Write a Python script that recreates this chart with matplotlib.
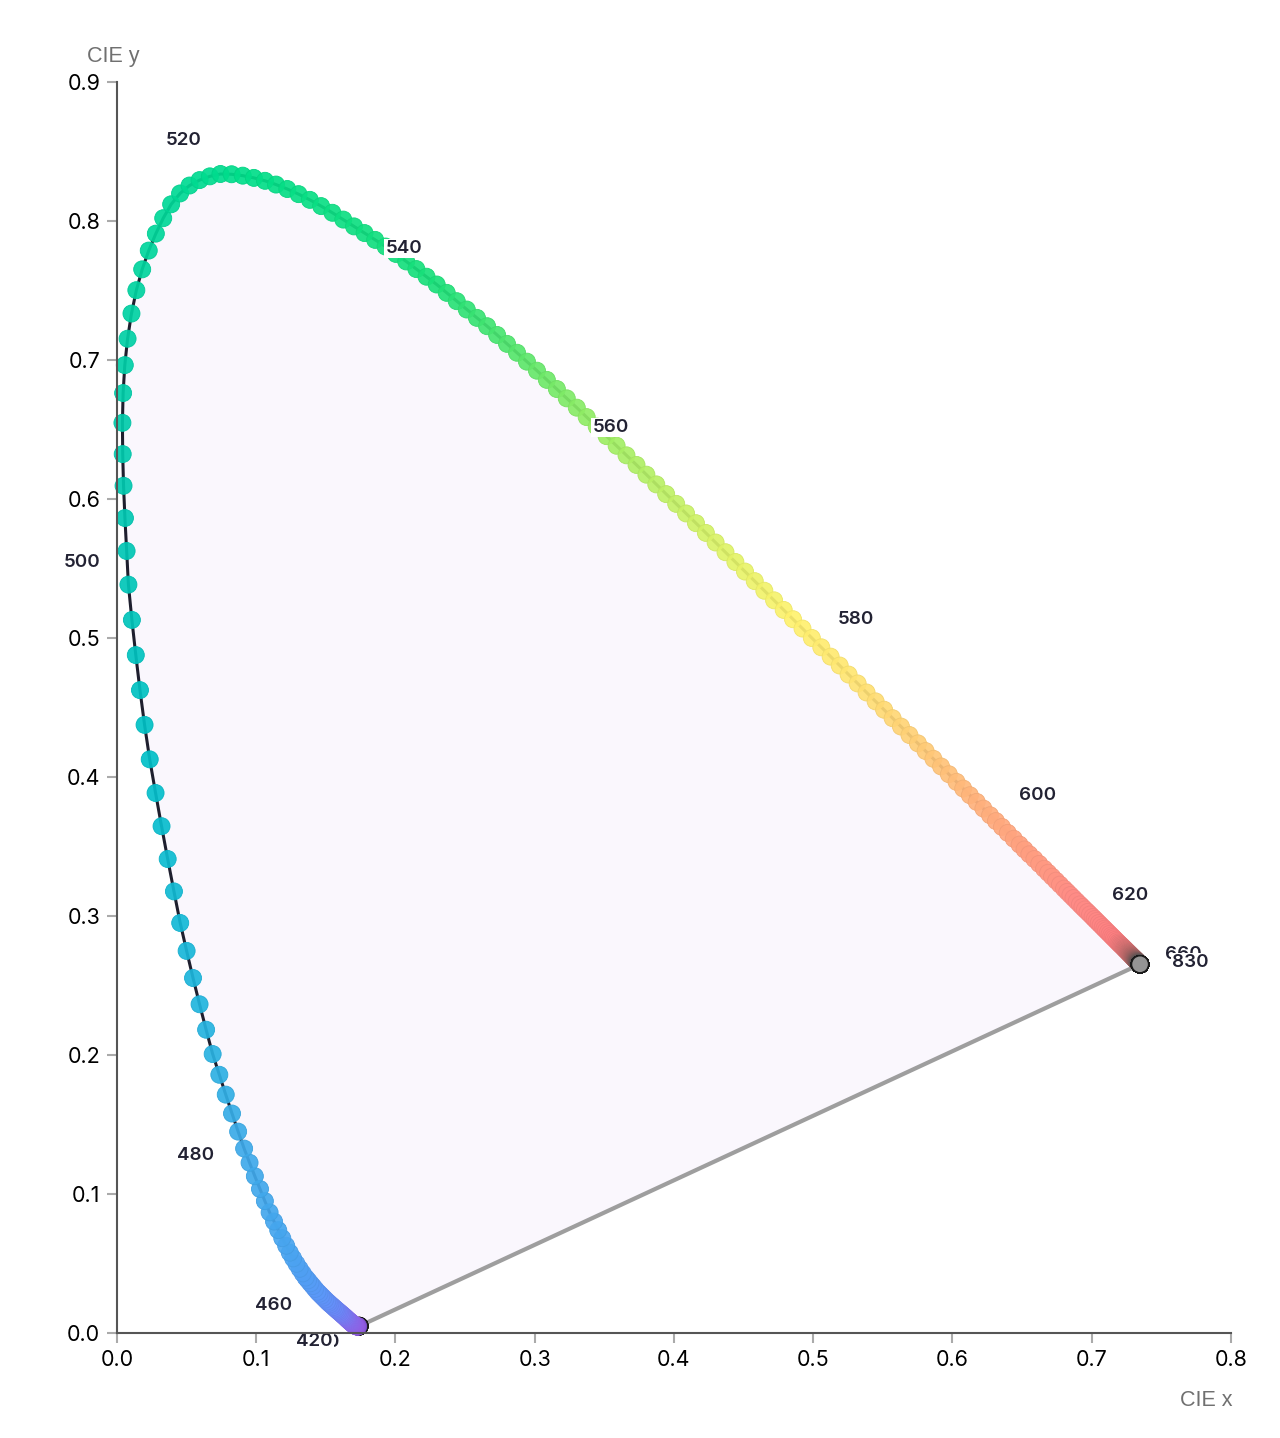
import numpy as np
import matplotlib
matplotlib.use("Agg")
import matplotlib.pyplot as plt
from matplotlib.colors import to_rgb

### Données : lieu spectral CIE 1931 (2°), pas de 1 nm
wl = np.arange(380, 831)

cie_x = [
    0.1741, 0.1741, 0.1741, 0.1740, 0.1740, 0.1740, 0.1739, 0.1739, 0.1739, 0.1738,  # 380
    0.1738, 0.1738, 0.1737, 0.1737, 0.1736, 0.1736, 0.1735, 0.1735, 0.1734, 0.1734,  # 390
    0.1733, 0.1732, 0.1732, 0.1731, 0.1731, 0.1730, 0.1729, 0.1728, 0.1728, 0.1727,  # 400
    0.1726, 0.1725, 0.1724, 0.1723, 0.1722, 0.1721, 0.1720, 0.1718, 0.1717, 0.1715,  # 410
    0.1714, 0.1712, 0.1710, 0.1708, 0.1706, 0.1703, 0.1700, 0.1697, 0.1695, 0.1692,  # 420
    0.1689, 0.1685, 0.1681, 0.1677, 0.1673, 0.1669, 0.1664, 0.1659, 0.1654, 0.1649,  # 430
    0.1644, 0.1638, 0.1631, 0.1625, 0.1618, 0.1611, 0.1602, 0.1593, 0.1584, 0.1575,  # 440
    0.1566, 0.1555, 0.1544, 0.1532, 0.1521, 0.1510, 0.1496, 0.1482, 0.1468, 0.1454,  # 450
    0.1440, 0.1423, 0.1406, 0.1389, 0.1372, 0.1355, 0.1334, 0.1312, 0.1289, 0.1265,  # 460
    0.1241, 0.1215, 0.1187, 0.1158, 0.1128, 0.1096, 0.1062, 0.1027, 0.0990, 0.0952,  # 470
    0.0913, 0.0870, 0.0826, 0.0781, 0.0735, 0.0687, 0.0640, 0.0593, 0.0546, 0.0500,  # 480
    0.0454, 0.0409, 0.0364, 0.0320, 0.0277, 0.0235, 0.0198, 0.0165, 0.0135, 0.0107,  # 490
    0.0082, 0.0069, 0.0057, 0.0047, 0.0041, 0.0039, 0.0044, 0.0056, 0.0076, 0.0104,  # 500
    0.0139, 0.0181, 0.0228, 0.0279, 0.0332, 0.0389, 0.0453, 0.0521, 0.0593, 0.0667,  # 510
    0.0743, 0.0823, 0.0903, 0.0983, 0.1063, 0.1142, 0.1223, 0.1304, 0.1385, 0.1466,  # 520
    0.1547, 0.1625, 0.1702, 0.1778, 0.1854, 0.1929, 0.2003, 0.2077, 0.2150, 0.2223,  # 530
    0.2296, 0.2368, 0.2440, 0.2512, 0.2585, 0.2658, 0.2730, 0.2801, 0.2873, 0.2944,  # 540
    0.3016, 0.3087, 0.3159, 0.3230, 0.3302, 0.3373, 0.3445, 0.3516, 0.3588, 0.3659,  # 550
    0.3731, 0.3802, 0.3873, 0.3944, 0.4016, 0.4087, 0.4158, 0.4229, 0.4299, 0.4370,  # 560
    0.4441, 0.4510, 0.4580, 0.4649, 0.4719, 0.4788, 0.4855, 0.4923, 0.4990, 0.5058,  # 570
    0.5125, 0.5190, 0.5254, 0.5319, 0.5383, 0.5448, 0.5509, 0.5570, 0.5630, 0.5691,  # 580
    0.5752, 0.5807, 0.5863, 0.5918, 0.5974, 0.6029, 0.6077, 0.6125, 0.6174, 0.6222,  # 590
    0.6270, 0.6312, 0.6355, 0.6397, 0.6440, 0.6482, 0.6517, 0.6552, 0.6588, 0.6623,  # 600
    0.6658, 0.6687, 0.6715, 0.6744, 0.6772, 0.6801, 0.6824, 0.6847, 0.6869, 0.6892,  # 610
    0.6915, 0.6933, 0.6951, 0.6970, 0.6988, 0.7006, 0.7021, 0.7035, 0.7050, 0.7064,  # 620
    0.7079, 0.7091, 0.7103, 0.7116, 0.7128, 0.7140, 0.7150, 0.7160, 0.7170, 0.7180,  # 630
    0.7190, 0.7198, 0.7206, 0.7214, 0.7222, 0.7230, 0.7236, 0.7242, 0.7248, 0.7254,  # 640
    0.7260, 0.7265, 0.7269, 0.7274, 0.7278, 0.7283, 0.7286, 0.7290, 0.7293, 0.7297,  # 650
    0.7300, 0.7302, 0.7304, 0.7307, 0.7309, 0.7311, 0.7313, 0.7315, 0.7316, 0.7318,  # 660
    0.7320, 0.7321, 0.7323, 0.7324, 0.7326, 0.7327, 0.7328, 0.7330, 0.7331, 0.7333,  # 670
    0.7334, 0.7335, 0.7336, 0.7338, 0.7339, 0.7340, 0.7341, 0.7342, 0.7342, 0.7343,  # 680
    0.7344, 0.7344, 0.7345, 0.7345, 0.7346, 0.7346, 0.7346, 0.7346, 0.7347, 0.7347,  # 690
] + [0.7347] * 131  # 700 -> 830 : constant

cie_y = [
    0.0050, 0.0050, 0.0050, 0.0050, 0.0050, 0.0050, 0.0050, 0.0049, 0.0049, 0.0049,  # 380
    0.0049, 0.0049, 0.0049, 0.0049, 0.0049, 0.0049, 0.0049, 0.0048, 0.0048, 0.0048,  # 390
    0.0048, 0.0048, 0.0048, 0.0048, 0.0048, 0.0048, 0.0048, 0.0048, 0.0048, 0.0048,  # 400
    0.0048, 0.0048, 0.0048, 0.0048, 0.0048, 0.0048, 0.0049, 0.0049, 0.0050, 0.0050,  # 410
    0.0051, 0.0052, 0.0054, 0.0055, 0.0056, 0.0058, 0.0060, 0.0062, 0.0064, 0.0067,  # 420
    0.0069, 0.0072, 0.0076, 0.0079, 0.0082, 0.0086, 0.0090, 0.0095, 0.0099, 0.0104,  # 430
    0.0109, 0.0115, 0.0120, 0.0126, 0.0132, 0.0138, 0.0146, 0.0154, 0.0161, 0.0169,  # 440
    0.0177, 0.0187, 0.0197, 0.0207, 0.0217, 0.0227, 0.0241, 0.0255, 0.0269, 0.0283,  # 450
    0.0297, 0.0317, 0.0338, 0.0358, 0.0379, 0.0399, 0.0429, 0.0462, 0.0498, 0.0537,  # 460
    0.0578, 0.0628, 0.0682, 0.0740, 0.0802, 0.0868, 0.0949, 0.1036, 0.1128, 0.1225,  # 470
    0.1327, 0.1449, 0.1579, 0.1715, 0.1858, 0.2007, 0.2182, 0.2365, 0.2554, 0.2749,  # 480
    0.2950, 0.3177, 0.3410, 0.3646, 0.3885, 0.4127, 0.4375, 0.4625, 0.4877, 0.5130,  # 490
    0.5384, 0.5626, 0.5863, 0.6095, 0.6323, 0.6548, 0.6762, 0.6963, 0.7153, 0.7334,  # 500
    0.7502, 0.7652, 0.7787, 0.7909, 0.8020, 0.8120, 0.8198, 0.8255, 0.8294, 0.8321,  # 510
    0.8338, 0.8336, 0.8326, 0.8310, 0.8289, 0.8262, 0.8230, 0.8193, 0.8152, 0.8107,  # 520
    0.8059, 0.8010, 0.7961, 0.7913, 0.7864, 0.7816, 0.7763, 0.7709, 0.7654, 0.7599,  # 530
    0.7543, 0.7483, 0.7423, 0.7363, 0.7303, 0.7243, 0.7180, 0.7116, 0.7052, 0.6988,  # 540
    0.6923, 0.6857, 0.6791, 0.6724, 0.6657, 0.6589, 0.6521, 0.6452, 0.6383, 0.6314,  # 550
    0.6245, 0.6175, 0.6105, 0.6035, 0.5965, 0.5896, 0.5826, 0.5756, 0.5687, 0.5617,  # 560
    0.5547, 0.5478, 0.5409, 0.5340, 0.5271, 0.5202, 0.5135, 0.5068, 0.5000, 0.4933,  # 570
    0.4866, 0.4802, 0.4737, 0.4673, 0.4608, 0.4544, 0.4484, 0.4423, 0.4363, 0.4302,  # 580
    0.4242, 0.4187, 0.4131, 0.4076, 0.4020, 0.3965, 0.3917, 0.3869, 0.3821, 0.3773,  # 590
    0.3725, 0.3683, 0.3641, 0.3598, 0.3556, 0.3514, 0.3479, 0.3444, 0.3410, 0.3375,  # 600
    0.3340, 0.3311, 0.3283, 0.3254, 0.3226, 0.3197, 0.3174, 0.3151, 0.3129, 0.3106,  # 610
    0.3083, 0.3065, 0.3047, 0.3029, 0.3011, 0.2993, 0.2978, 0.2964, 0.2949, 0.2935,  # 620
    0.2920, 0.2908, 0.2896, 0.2883, 0.2871, 0.2859, 0.2849, 0.2839, 0.2829, 0.2819,  # 630
    0.2809, 0.2801, 0.2793, 0.2786, 0.2778, 0.2770, 0.2764, 0.2758, 0.2752, 0.2746,  # 640
    0.2740, 0.2735, 0.2731, 0.2726, 0.2722, 0.2717, 0.2714, 0.2710, 0.2707, 0.2703,  # 650
    0.2700, 0.2698, 0.2696, 0.2693, 0.2691, 0.2689, 0.2687, 0.2685, 0.2684, 0.2682,  # 660
    0.2680, 0.2679, 0.2677, 0.2676, 0.2674, 0.2673, 0.2672, 0.2670, 0.2669, 0.2667,  # 670
    0.2666, 0.2665, 0.2664, 0.2662, 0.2661, 0.2660, 0.2659, 0.2658, 0.2658, 0.2657,  # 680
    0.2656, 0.2656, 0.2655, 0.2655, 0.2654, 0.2654, 0.2654, 0.2654, 0.2653, 0.2653,  # 690
] + [0.2653] * 131  # 700 -> 830

# longueurs d'onde étiquetées
label_wl = [400, 420, 460, 480, 500, 520, 540, 560, 580, 600, 620, 660, 830]

x_ticks = [0.0, 0.1, 0.2, 0.3, 0.4, 0.5, 0.6, 0.7, 0.8]
y_ticks = [0.0, 0.1, 0.2, 0.3, 0.4, 0.5, 0.6, 0.7, 0.8, 0.9]

### Style
# décalage des étiquettes en pixels (dx vers la droite, dy vers le bas)
label_offset = {400: (-38, 16), 420: (-41, 16), 460: (-44, 14), 480: (-49, 7),
                500: (-46, -22), 520: (-37, -33), 540: (-33, -36), 560: (-26, -37),
                580: (25, -37), 600: (47, -20), 620: (50, -9), 660: (50, -3),
                830: (50, -2)}

color_stops = [(380, '#353535'), (400, '#50407a'), (410, '#8a58e0'), (425, '#9a62ee'),
               (438, '#8a70f4'), (450, '#6e88fa'), (460, '#5c98f8'), (470, '#4aa4f0'),
               (480, '#3eaaea'), (488, '#1cb6dc'), (495, '#00c0c8'), (502, '#00c8b2'),
               (512, '#00d69c'), (522, '#00de8a'), (540, '#1ae07a'), (548, '#56e66c'),
               (556, '#98ee64'), (562, '#baf066'), (570, '#e4f468'), (576, '#fff26e'),
               (582, '#ffe672'), (590, '#ffce76'), (598, '#ffb27c'), (606, '#ffa080'),
               (618, '#ff8c86'), (638, '#ff8082'), (660, '#b46868'), (690, '#555555'),
               (830, '#4a4a4a')]

stop_w = np.array([s[0] for s in color_stops])
stop_rgb = np.array([to_rgb(s[1]) for s in color_stops])
faces = np.stack([np.interp(wl, stop_w, stop_rgb[:, k]) for k in range(3)], axis=1)
edges = faces * 0.95
lws = np.full(len(wl), 0.6)
ends = (wl <= 400) | (wl >= 700)
edges[ends] = to_rgb('#1a1a1a')
lws[ends] = 1.0
faces[-1] = to_rgb('#9c9c9c')
faces = np.column_stack([faces, np.full(len(wl), 0.92)])

x = np.array(cie_x)
y = np.array(cie_y)

fig = plt.figure(figsize=(12.8, 14.38), dpi=100)
ax = fig.add_axes([0.0914, 0.0730, 0.8703, 0.8700])
ax.set_xlim(0, 0.8)
ax.set_ylim(0, 0.9)

# fond du diagramme + droite des pourpres
ax.fill(np.r_[x, x[0]], np.r_[y, y[0]], facecolor='#faf7fd', edgecolor='none', zorder=1)
ax.plot([x[-1], x[0]], [y[-1], y[0]], color='#999999', lw=3, alpha=0.95,
        solid_capstyle='round', zorder=2)
# lieu spectral
ax.plot(x, y, color='#1e1f2e', lw=2.2, zorder=3)
ax.scatter(x, y, s=150, c=faces, edgecolors=edges, linewidths=lws, zorder=4, clip_on=False)

for w in label_wl:
    i = int(np.where(wl == w)[0][0])
    dx, dy = label_offset[w]
    ax.annotate(str(w), xy=(x[i], y[i]), xytext=(dx, -dy), textcoords='offset pixels',
                ha='center', va='center', fontsize=13.5, fontweight='semibold',
                family=['Inter', 'DejaVu Sans'], color='#222233', zorder=5,
                bbox=dict(boxstyle='square,pad=0.05', fc='white', ec='none'))

ax.set_xticks(x_ticks)
ax.set_yticks(y_ticks)
ax.set_xticklabels([f"{t:.1f}" for t in x_ticks])
ax.set_yticklabels([f"{t:.1f}" for t in y_ticks])
ax.tick_params(direction='out', length=7, width=1.5, color='#aaaaaa',
               labelsize=15.5, labelcolor='black', pad=5)
for lab in ax.get_xticklabels() + ax.get_yticklabels():
    lab.set_family(['Inter', 'DejaVu Sans'])
for s in ['top', 'right']:
    ax.spines[s].set_visible(False)
for s in ['left', 'bottom']:
    ax.spines[s].set_color('#555555')
    ax.spines[s].set_linewidth(1.5)
    ax.spines[s].set_zorder(6)

fig.text(113 / 1280, 1 - 62 / 1438, "CIE y", ha='center', va='baseline', fontsize=15.5,
         color='#707070', family=['Liberation Sans', 'DejaVu Sans'])
fig.text(1232 / 1280, 1 - 1406 / 1438, "CIE x", ha='right', va='baseline', fontsize=15.5,
         color='#707070', family=['Liberation Sans', 'DejaVu Sans'])

plt.savefig("out.png", dpi=100)
